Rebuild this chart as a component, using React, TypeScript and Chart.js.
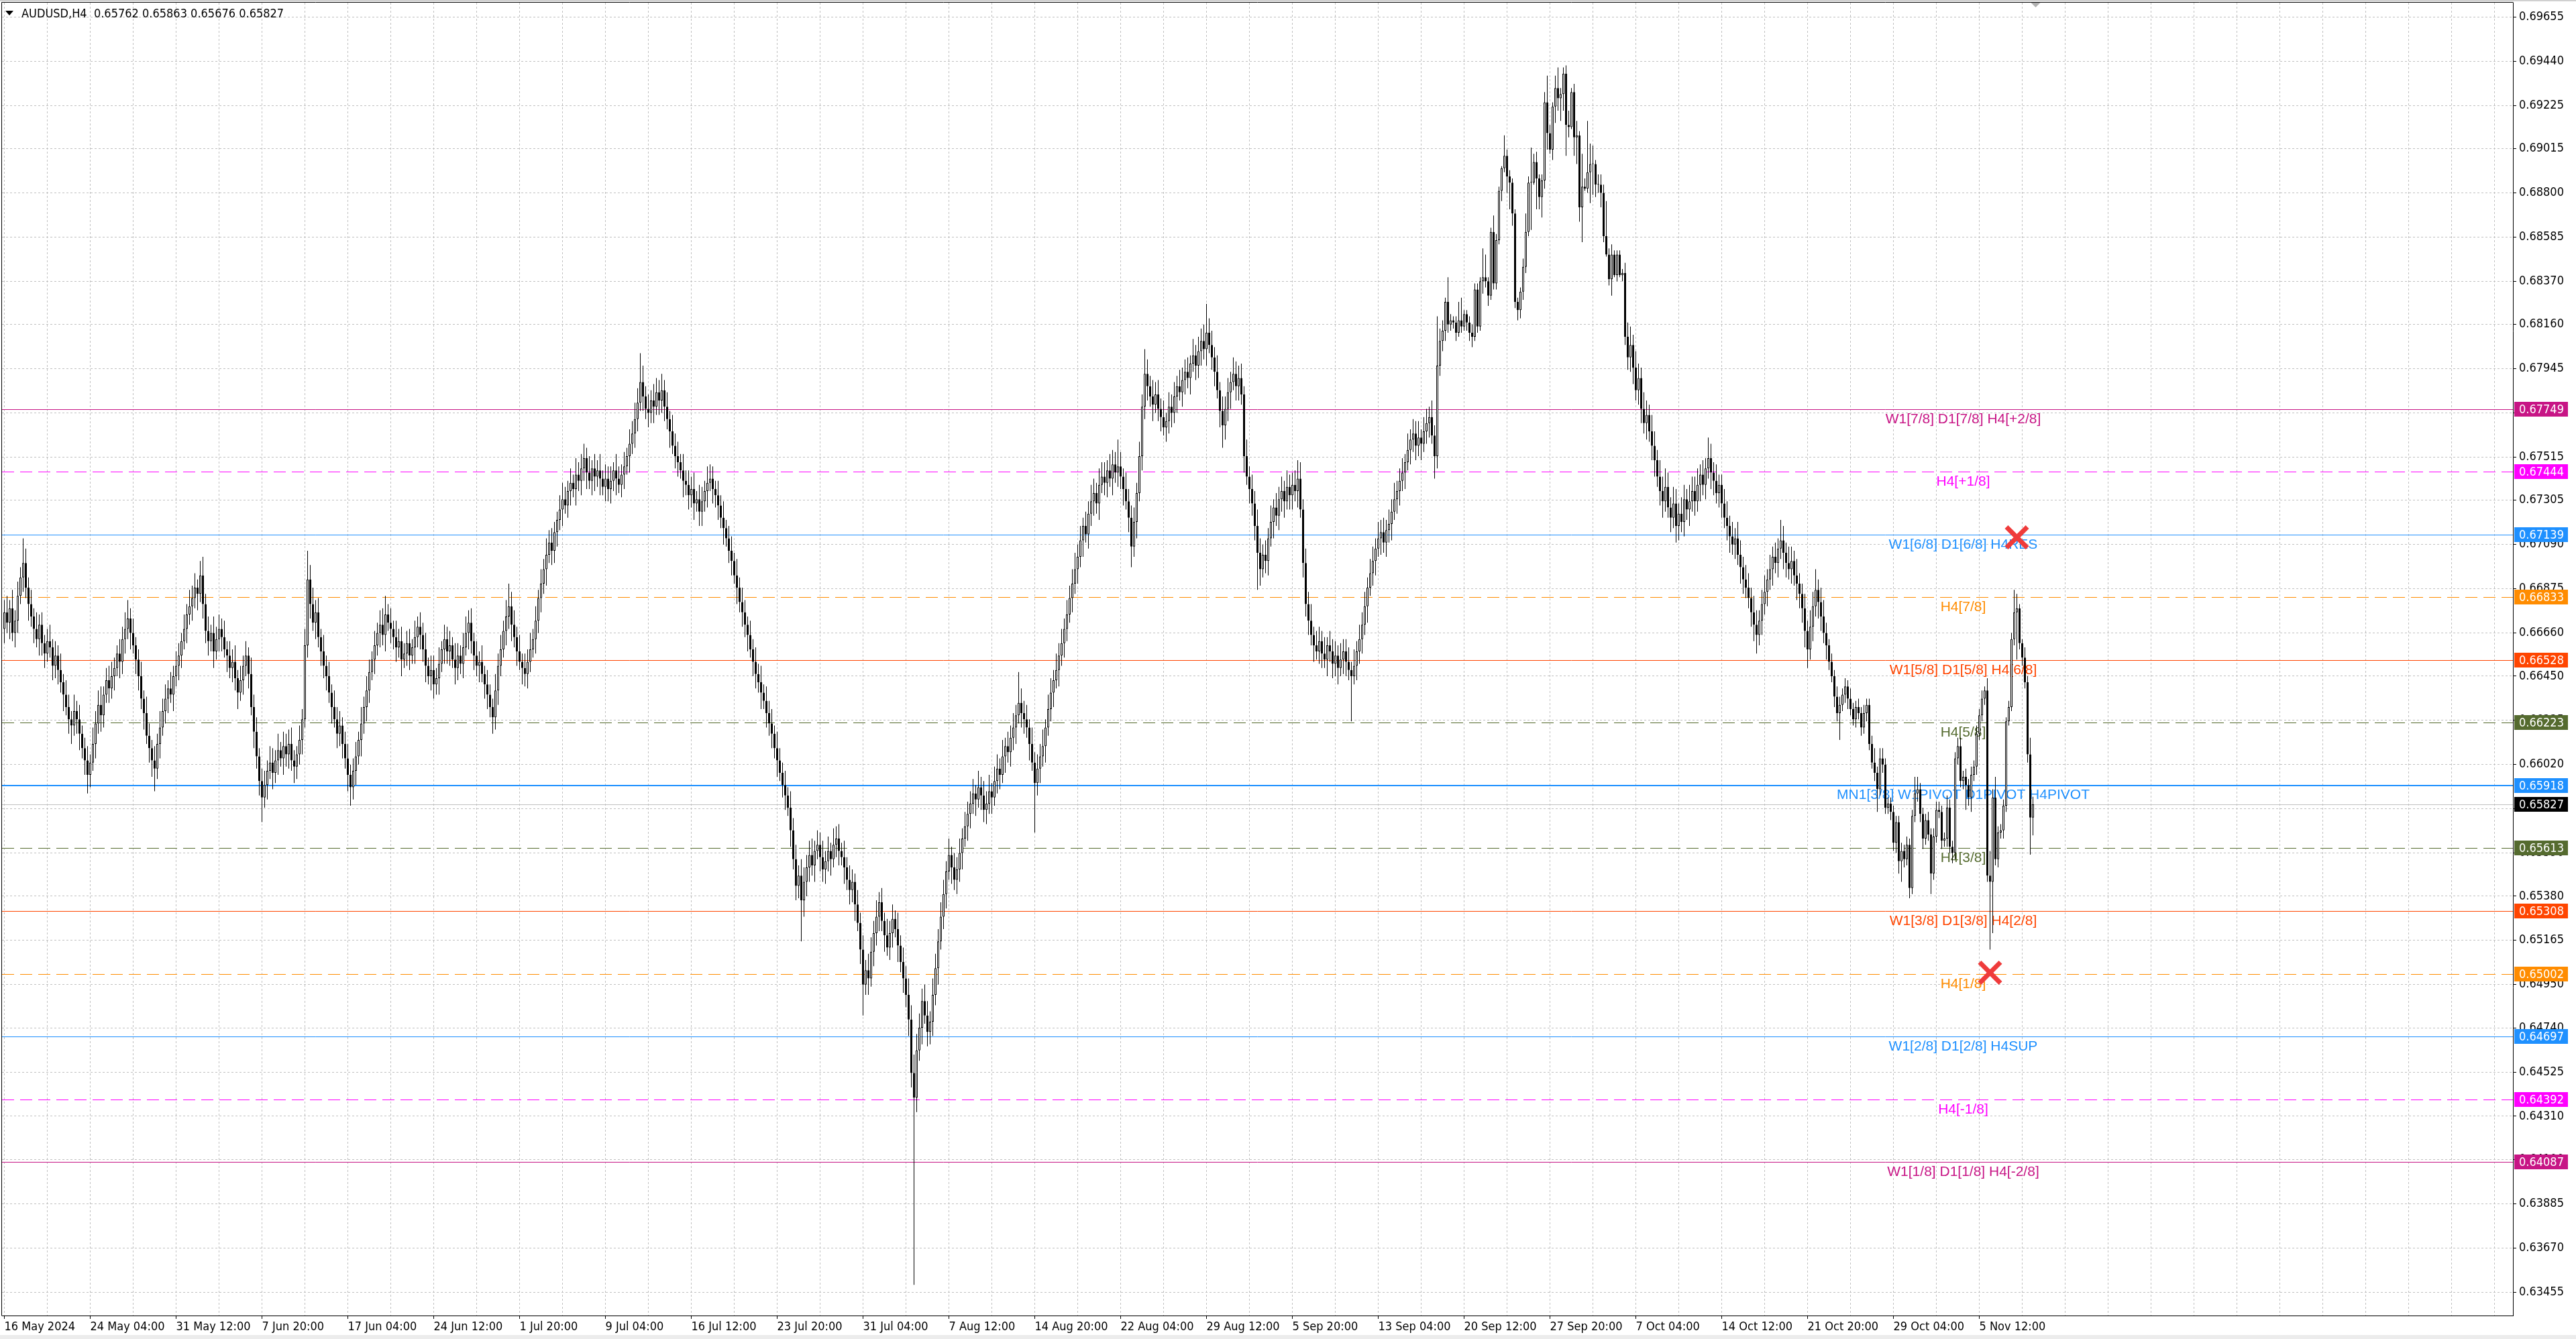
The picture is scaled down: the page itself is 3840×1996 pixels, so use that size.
import React, { useEffect, useRef } from 'react';
import { Chart, registerables } from 'chart.js';

Chart.register(...registerables);

// ---------------- DATA ----------------
const symbolTitle = 'AUDUSD,H4  0.65762 0.65863 0.65676 0.65827';

const dateLabels = [
  '16 May 2024', '24 May 04:00', '31 May 12:00', '7 Jun 20:00', '17 Jun 04:00', '24 Jun 12:00',
  '1 Jul 20:00', '9 Jul 04:00', '16 Jul 12:00', '23 Jul 20:00', '31 Jul 04:00', '7 Aug 12:00',
  '14 Aug 20:00', '22 Aug 04:00', '29 Aug 12:00', '5 Sep 20:00', '13 Sep 04:00', '20 Sep 12:00',
  '27 Sep 20:00', '7 Oct 04:00', '14 Oct 12:00', '21 Oct 20:00', '29 Oct 04:00', '5 Nov 12:00',
];

const yTickValues = [
  0.69655, 0.6944, 0.69225, 0.69015, 0.688, 0.68585, 0.6837, 0.6816, 0.67945, 0.6773,
  0.67515, 0.67305, 0.6709, 0.66875, 0.6666, 0.6645, 0.66235, 0.6602, 0.65805, 0.6559,
  0.6538, 0.65165, 0.6495, 0.6474, 0.64525, 0.6431, 0.641, 0.63885, 0.6367, 0.63455,
];

// prices in pips (x 0.0001); open of each bar = previous close
const firstOpen = 6668;
const closes = [
  6676,6671,6678,6666,6672,6684,6693,6700,6688,6680,
  6674,6668,6663,6670,6661,6656,6662,6659,6650,6655,
  6648,6642,6636,6630,6624,6621,6628,6624,6617,6610,
  6604,6597,6603,6612,6622,6631,6626,6636,6643,6639,
  6645,6649,6656,6652,6663,6668,6673,6666,6660,6653,
  6645,6634,6627,6616,6610,6604,6600,6612,6620,6628,
  6634,6639,6636,6645,6650,6655,6662,6668,6675,6679,
  6683,6688,6685,6694,6680,6667,6662,6666,6657,6663,
  6668,6664,6658,6655,6649,6652,6644,6637,6643,6650,
  6655,6646,6630,6618,6606,6594,6586,6592,6599,6603,
  6598,6604,6609,6605,6611,6607,6612,6604,6601,6607,
  6614,6624,6660,6692,6680,6671,6676,6664,6657,6650,
  6645,6637,6630,6624,6617,6621,6612,6605,6597,6591,
  6599,6606,6614,6622,6630,6638,6647,6653,6660,6666,
  6670,6665,6675,6671,6668,6664,6659,6662,6653,6656,
  6661,6655,6659,6664,6669,6665,6658,6650,6645,6648,
  6641,6644,6651,6658,6663,6657,6660,6653,6649,6655,
  6651,6659,6666,6671,6662,6655,6650,6652,6646,6641,
  6636,6630,6625,6638,6650,6658,6667,6674,6679,6670,
  6664,6657,6652,6649,6646,6652,6658,6663,6672,6683,
  6690,6697,6704,6710,6706,6715,6721,6726,6731,6728,
  6735,6739,6736,6743,6740,6746,6751,6744,6740,6746,
  6742,6745,6741,6737,6741,6736,6740,6745,6741,6738,
  6743,6747,6752,6758,6763,6770,6778,6788,6781,6775,
  6773,6779,6776,6783,6779,6784,6776,6770,6764,6757,
  6752,6749,6745,6740,6738,6733,6736,6729,6731,6725,
  6730,6735,6739,6741,6736,6733,6728,6722,6717,6712,
  6706,6701,6694,6688,6681,6676,6670,6665,6658,6652,
  6646,6642,6637,6633,6627,6622,6617,6610,6604,6598,
  6592,6587,6581,6570,6556,6543,6548,6536,6545,6552,
  6558,6553,6560,6563,6557,6551,6555,6560,6556,6563,
  6566,6560,6557,6552,6546,6541,6545,6534,6525,6512,
  6495,6502,6498,6511,6520,6528,6535,6526,6519,6513,
  6520,6527,6522,6514,6506,6498,6490,6478,6452,6440,
  6463,6474,6487,6480,6472,6477,6490,6503,6516,6528,
  6539,6550,6558,6552,6546,6551,6559,6566,6572,6578,
  6583,6588,6585,6591,6587,6580,6583,6589,6586,6594,
  6600,6597,6606,6611,6608,6615,6620,6626,6632,6627,
  6624,6620,6612,6603,6593,6600,6606,6611,6620,6629,
  6637,6643,6648,6655,6661,6668,6675,6683,6690,6697,
  6703,6711,6718,6714,6724,6730,6734,6729,6738,6742,
  6739,6745,6741,6748,6744,6747,6742,6736,6730,6722,
  6708,6720,6734,6752,6776,6792,6786,6781,6777,6782,
  6775,6771,6766,6769,6776,6773,6781,6786,6783,6789,
  6793,6790,6797,6801,6796,6803,6808,6804,6812,6806,
  6800,6793,6784,6774,6767,6775,6783,6788,6792,6786,
  6790,6782,6752,6742,6736,6729,6718,6705,6697,6704,
  6701,6712,6720,6727,6723,6731,6735,6730,6737,6733,
  6738,6735,6741,6726,6700,6680,6672,6665,6660,6657,
  6662,6656,6653,6660,6657,6651,6655,6649,6653,6657,
  6652,6648,6645,6650,6657,6663,6670,6679,6688,6695,
  6701,6707,6712,6715,6710,6716,6719,6725,6731,6735,
  6740,6744,6749,6755,6760,6763,6757,6761,6758,6764,
  6768,6771,6762,6752,6796,6808,6813,6827,6816,6818,
  6817,6812,6818,6815,6821,6817,6812,6810,6833,6815,
  6837,6839,6837,6830,6861,6836,6857,6881,6892,6898,
  6888,6885,6870,6827,6823,6832,6844,6861,6885,6885,
  6895,6887,6878,6886,6924,6909,6901,6922,6931,6926,
  6928,6938,6913,6912,6929,6907,6908,6873,6883,6882,
  6890,6894,6894,6884,6884,6880,6859,6850,6838,6850,
  6840,6850,6840,6841,6810,6800,6806,6795,6784,6790,
  6775,6768,6772,6764,6757,6750,6742,6735,6730,6737,
  6727,6722,6729,6718,6724,6720,6731,6726,6730,6735,
  6730,6738,6743,6738,6746,6751,6744,6740,6734,6738,
  6729,6722,6718,6713,6709,6712,6704,6698,6692,6688,
  6683,6676,6670,6665,6672,6680,6686,6692,6697,6703,
  6700,6707,6711,6705,6700,6697,6701,6694,6690,6685,
  6678,6667,6658,6669,6679,6687,6681,6674,6666,6660,
  6652,6645,6635,6627,6631,6636,6640,6634,6629,6624,
  6630,6627,6620,6627,6631,6612,6603,6598,6590,6605,
  6602,6581,6583,6579,6564,6574,6555,6560,6556,6563,
  6542,6577,6588,6590,6578,6566,6575,6568,6549,6567,
  6580,6579,6565,6566,6581,6562,6559,6605,6611,6594,
  6596,6592,6586,6597,6601,6617,6626,6634,6638,6548,
  6545,6586,6556,6569,6570,6582,6623,6630,6663,6676,
  6678,6661,6654,6642,6607,6576.2,6582.7,
];

// wick lengths in pips above the body top / below the body bottom
const upperWicks = [
  6,8,4,9,5,7,5,12,7,5, 7,4,8,5,6,4,6,8,4,7, 5,8,4,7,6,4,8,5,7,4, 5,7,4,8,6,7,9,4,6,7,
  7,5,4,7,6,8,9,5,7,4, 5,7,4,8,6,4,7,5,8,6, 7,4,8,5,7,6,4,7,5,8, 6,7,4,7,9,5,7,4,8,6,
  7,5,8,4,7,6,8,4,7,5, 7,4,8,6,7,4,6,7,5,8, 7,5,8,4,7,6,7,8,5,4, 7,5,8,14,7,8,6,7,4,8,
  5,7,4,8,6,7,4,6,7,5, 6,7,4,8,5,7,6,4,7,5, 7,8,9,5,7,4,8,6,7,5, 6,7,4,8,5,7,6,8,4,7,
  7,5,8,4,7,6,7,4,8,6, 5,7,8,6,7,4,7,5,8,4, 7,5,4,8,6,7,5,8,11,7, 7,5,8,4,7,6,8,5,7,4,
  7,5,8,6,7,5,4,7,8,6, 5,7,4,8,6,7,7,5,8,4, 7,5,8,4,7,6,7,4,8,6, 5,7,4,7,6,8,7,14,8,5,
  7,5,8,7,6,8,5,7,4,8, 6,7,4,8,5,7,6,8,4,7, 7,5,8,7,6,4,7,5,8,4, 6,7,4,8,5,7,6,4,7,5,
  7,5,8,4,7,6,7,4,8,6, 5,7,4,8,6,7,5,8,7,6, 7,8,5,7,6,8,5,7,4,8, 6,7,4,8,5,7,6,4,7,5,
  7,5,8,7,6,8,5,7,4,8, 6,7,4,8,5,7,6,8,7,9, 8,7,6,8,7,5,8,7,6,7, 7,5,8,4,7,6,7,5,7,6,
  6,7,4,8,5,7,6,8,4,7, 7,5,8,4,7,6,7,5,15,7, 6,7,4,8,5,7,6,8,4,7, 7,5,8,6,7,5,7,6,7,8,
  6,7,4,7,6,8,7,5,8,7, 7,5,8,7,6,13,7,4,8,6, 6,7,5,7,6,12,7,5,8,6, 7,5,8,4,7,6,7,5,8,6,
  6,7,4,8,5,7,6,8,14,7, 7,5,8,4,7,6,7,5,8,6, 6,7,4,8,5,7,6,8,7,5, 7,5,8,4,7,6,7,5,8,6,
  6,7,9,8,5,7,6,8,4,7, 7,5,8,4,7,6,7,5,8,6, 6,7,4,8,5,7,6,7,5,7, 7,5,8,6,7,5,7,6,8,5,
  6,7,4,8,5,7,6,8,4,7, 7,5,8,5,24,6,5,2,12,3, 2,3,9,11,2,2,3,4,3,3, 2,14,11,2,2,8,3,2,1,10,
  3,3,2,2,2,2,4,9,3,17, 4,5,2,3,5,13,4,2,6,10, 3,3,4,7,2,4,7,2,16,4, 25,10,9,2,5,5,4,17,3,5,
  2,2,2,2,5,7,9,5,8,7, 5,8,7,5,8,7,5,8,7,9, 7,5,8,7,5,8,7,5,8,7, 7,8,5,7,5,10,7,5,8,5,
  5,7,8,5,7,5,8,7,5,7, 7,5,8,7,5,7,8,5,7,5, 7,5,10,7,5,8,7,5,8,5, 5,7,5,8,7,10,5,7,8,5,
  3,4,3,5,4,3,4,3,5,3, 3,4,3,4,3,3,4,7,3,5, 5,3,3,3,3,3,3,4,3,4, 3,3,8,6,3,3,3,4,3,4,
  4,4,3,3,6,4,3,3,4,4, 3,4,3,4,3,4,3,4,2,6, 12,4,10,3,3,3,2,3,3,11, 7,2,2,5,3,8,3.6,
];

const lowerWicks = [
  7,5,8,4,7,6,4,7,5,8, 5,7,4,8,6,7,4,5,7,6, 7,5,8,4,7,9,5,7,8,5, 7,9,6,4,7,5,8,6,4,7,
  5,7,4,8,6,7,5,8,4,7, 7,5,8,4,7,8,11,5,7,4, 6,7,4,8,5,7,6,4,7,5, 7,5,8,4,7,6,7,5,8,4,
  6,7,4,8,5,7,6,8,4,7, 5,7,4,8,6,7,12,5,7,4, 8,5,7,4,8,6,7,5,8,6, 5,7,4,6,7,4,8,5,7,6,
  7,5,8,4,7,6,7,5,8,9, 6,7,4,8,5,7,6,4,7,5, 7,5,8,4,7,6,7,5,8,4, 6,7,4,8,5,7,6,8,4,7,
  7,5,8,4,7,6,7,4,8,6, 5,7,4,8,6,7,5,8,4,7, 7,5,8,6,7,5,4,7,6,8, 5,7,4,8,6,7,5,4,7,6,
  7,5,8,4,7,6,7,5,8,4, 6,7,4,8,5,7,6,8,4,7, 7,5,8,4,7,6,7,5,8,4, 6,7,4,8,5,7,6,4,7,5,
  7,5,8,4,7,6,7,5,8,4, 6,7,4,8,5,7,6,8,4,7, 7,5,8,4,7,6,7,5,8,4, 6,7,4,8,5,7,6,8,4,7,
  7,5,8,4,7,6,7,5,8,4, 6,7,4,8,5,7,6,20,8,7, 7,5,8,4,7,6,7,5,8,4, 6,7,4,8,5,7,6,8,4,7,
  15,5,8,4,7,6,7,5,8,4, 6,7,4,8,5,7,6,8,7,91, 7,5,8,4,7,6,7,5,8,4, 6,7,4,8,5,7,6,8,4,7,
  7,5,8,4,7,6,7,5,8,4, 6,7,4,8,5,7,6,8,4,7, 7,5,8,4,24,6,7,5,8,4, 6,7,4,8,5,7,6,4,7,5,
  7,5,8,4,7,6,7,5,8,4, 6,7,4,8,5,7,6,8,4,7, 10,5,8,4,7,6,7,5,8,4, 6,7,4,7,6,7,5,8,4,7,
  7,5,8,4,7,6,7,5,8,4, 6,7,4,8,11,7,6,8,4,7, 7,5,8,4,7,6,7,18,8,4, 6,7,4,8,5,7,6,8,4,7,
  7,5,8,4,7,6,7,5,8,4, 6,7,4,8,5,7,6,8,4,7, 7,5,22,4,7,6,7,5,8,4, 6,7,4,8,5,7,6,8,4,7,
  7,5,8,4,7,6,7,5,8,4, 6,7,4,11,6,5,5,5,4,3, 3,4,2,3,2,4,4,5,2,3, 2,6,3,5,2,3,3,2,5,2,
  8,13,6,3,5,4,4,3,2,23, 1,15,6,10,4,8,2,5,8,6, 11,8,15,5,1,9,13,7,17,1, 2,15,15,6,4,7,3,1,3,8,
  1,3,1,3,4,6,7,8,5,7, 7,5,8,5,7,8,5,7,8,5, 5,7,5,8,7,5,7,5,8,5, 7,5,8,5,7,5,8,7,5,7,
  7,5,7,8,5,7,5,8,7,5, 5,7,8,9,5,7,5,7,5,8, 5,7,5,8,7,5,7,5,8,7, 7,8,9,5,7,5,8,7,5,7,
  4,3,5,4,13,3,4,5,3,3, 4,3,4,3,4,3,3,4,11,3, 4,3,3,4,4,5,6,10,4,3, 5,3,3,4,4,5,3,3,10,3,
  3,3,4,3,4,3,5,3,3,3, 4,12,4,7,3,4,3,3,3,3, 33,25,3,4,3,4,3,2,2,3, 23,3,4,3,4,18,8.6,
];

const currentPrice = 0.65827;

const levelPrices = [0.67749, 0.67444, 0.67139, 0.66833, 0.66528, 0.66223, 0.65918, 0.65613, 0.65308, 0.65002, 0.64697, 0.64392, 0.64087];
const levelLabels = [
  'W1[7/8] D1[7/8] H4[+2/8]', 'H4[+1/8]', 'W1[6/8] D1[6/8] H4RES', 'H4[7/8]',
  'W1[5/8] D1[5/8] H4[6/8]', 'H4[5/8]', 'MN1[3/8] W1PIVOT D1PIVOT H4PIVOT', 'H4[3/8]',
  'W1[3/8] D1[3/8] H4[2/8]', 'H4[1/8]', 'W1[2/8] D1[2/8] H4SUP', 'H4[-1/8]', 'W1[1/8] D1[1/8] H4[-2/8]',
];
const labelBar = 730;

const markerBars = [750, 740];
const markerPrices = [0.67125, 0.65008];

// ---------------- STYLES ----------------
const levelColors = ['#C71585', '#FF00FF', '#1E90FF', '#FF8C00', '#FF4500', '#556B2F', '#1E90FF', '#556B2F', '#FF4500', '#FF8C00', '#1E90FF', '#FF00FF', '#C71585'];
const levelDashed = [false, true, false, true, false, true, false, true, false, true, false, true, false];
const levelWidths = [1, 1, 1, 1, 1, 1, 2, 1, 1, 1, 1, 1, 1];

const UI_FAMILY = '"DejaVu Sans Condensed", "Liberation Sans", Arial, sans-serif';
const UI_SIZE = 18;
const LABEL_FONT = '21px "Liberation Sans", Arial, sans-serif';

// ---------------- BUILD ----------------
const PIP = 10000;
const opens = closes.map((c, i) => (i === 0 ? firstOpen : closes[i - 1]));
const wickData = closes.map((c, i) => ({
  x: i,
  y: [(Math.min(opens[i], c) - lowerWicks[i]) / PIP, (Math.max(opens[i], c) + upperWicks[i]) / PIP],
}));
const bodyData = closes.map((c, i) => ({ x: i, y: [Math.min(opens[i], c) / PIP, Math.max(opens[i], c) / PIP] }));
const bodyColors = closes.map((c, i) => (c >= opens[i] ? '#ffffff' : '#000000'));
const markerData = markerBars.map((b, i) => ({ x: b, y: markerPrices[i] }));

const overlayPlugin = {
  id: 'mt4overlay',
  beforeDatasetsDraw(chart: any) {
    const { ctx, chartArea: a, scales } = chart;
    const y = scales.y;
    const x = scales.x;
    ctx.save();
    // bid line
    const yc = Math.round(y.getPixelForValue(currentPrice)) + 0.5;
    ctx.strokeStyle = '#c0c0c0';
    ctx.lineWidth = 1;
    ctx.setLineDash([]);
    ctx.beginPath();
    ctx.moveTo(a.left, yc);
    ctx.lineTo(a.right, yc);
    ctx.stroke();
    // levels
    const lx = x.getPixelForValue(labelBar);
    levelPrices.forEach((p, i) => {
      const w = levelWidths[i];
      const yy = Math.round(y.getPixelForValue(p)) + (w % 2 ? 0.5 : 0);
      ctx.strokeStyle = levelColors[i];
      ctx.lineWidth = w;
      ctx.setLineDash(levelDashed[i] ? [18, 9] : []);
      ctx.beginPath();
      ctx.moveTo(a.left, yy);
      ctx.lineTo(a.right, yy);
      ctx.stroke();
      ctx.setLineDash([]);
      ctx.fillStyle = levelColors[i];
      ctx.font = LABEL_FONT;
      ctx.textAlign = 'center';
      ctx.textBaseline = 'alphabetic';
      ctx.fillText(levelLabels[i], lx, yy + 20);
    });
    ctx.restore();
  },
  afterDraw(chart: any) {
    const { ctx, chartArea: a, scales } = chart;
    const y = scales.y;
    const x = scales.x;
    ctx.save();
    ctx.setLineDash([]);
    // window edges
    ctx.fillStyle = '#d0d0d0';
    ctx.fillRect(0, 0, chart.width, 2);
    ctx.fillStyle = '#ececec';
    ctx.fillRect(0, 1990, chart.width, 6);
    // frame top / left
    ctx.strokeStyle = '#000';
    ctx.lineWidth = 1;
    ctx.beginPath();
    ctx.moveTo(a.left - 0.5, a.top - 0.5);
    ctx.lineTo(a.right + 0.5, a.top - 0.5);
    ctx.moveTo(a.left - 0.5, a.top - 0.5);
    ctx.lineTo(a.left - 0.5, a.bottom + 0.5);
    ctx.stroke();
    // shift marker
    const sx = x.getPixelForValue(closes.length);
    ctx.fillStyle = '#b0b0b0';
    ctx.beginPath();
    ctx.moveTo(sx - 7, a.top);
    ctx.lineTo(sx + 7, a.top);
    ctx.lineTo(sx, a.top + 7);
    ctx.closePath();
    ctx.fill();
    // price badges
    const uiFont = `${UI_SIZE}px ${UI_FAMILY}`;
    const badge = (price: number, bg: string) => {
      const yy = Math.round(y.getPixelForValue(price));
      ctx.fillStyle = bg;
      ctx.fillRect(a.right + 2, yy - 11, 80, 22);
      ctx.fillStyle = '#ffffff';
      ctx.font = uiFont;
      ctx.textAlign = 'left';
      ctx.textBaseline = 'middle';
      ctx.fillText(price.toFixed(5), a.right + 9, yy + 1);
    };
    levelPrices.forEach((p, i) => badge(p, levelColors[i]));
    badge(currentPrice, '#000000');
    // title
    ctx.fillStyle = '#000';
    ctx.beginPath();
    ctx.moveTo(8, 16);
    ctx.lineTo(20, 16);
    ctx.lineTo(14, 23);
    ctx.closePath();
    ctx.fill();
    ctx.font = uiFont;
    ctx.textAlign = 'left';
    ctx.textBaseline = 'alphabetic';
    ctx.fillText(symbolTitle, 32, 26);
    ctx.restore();
  },
};

const uiFontObj = { family: UI_FAMILY, size: UI_SIZE };

export default function App() {
  const ref = useRef<HTMLCanvasElement>(null);
  useEffect(() => {
    document.body.style.margin = '0';
    document.body.style.overflow = 'hidden';
    const chart = new Chart(ref.current as HTMLCanvasElement, {
      type: 'bar',
      data: {
        datasets: [
          {
            type: 'scatter',
            data: markerData,
            pointStyle: 'crossRot',
            pointRadius: 22,
            pointBorderWidth: 7,
            borderColor: '#ef3b3b',
            backgroundColor: '#ef3b3b',
            clip: false,
            order: 0,
          } as any,
          {
            data: bodyData,
            backgroundColor: bodyColors,
            borderColor: '#000000',
            borderWidth: 1,
            borderSkipped: false,
            barThickness: 3,
            minBarLength: 1,
            grouped: false,
            inflateAmount: 0,
            order: 1,
          } as any,
          {
            data: wickData,
            backgroundColor: '#000000',
            borderWidth: 0,
            barThickness: 1,
            grouped: false,
            inflateAmount: 0,
            order: 2,
          } as any,
        ],
      },
      options: {
        responsive: false,
        maintainAspectRatio: false,
        devicePixelRatio: 1,
        animation: false,
        events: [],
        layout: { autoPadding: false, padding: { left: 3, top: 4, right: 0, bottom: 0 } },
        plugins: { legend: { display: false }, tooltip: { enabled: false } },
        scales: {
          x: {
            type: 'linear',
            position: 'bottom',
            min: -0.875,
            max: 934.875,
            offset: false,
            afterBuildTicks: (scale: any) => {
              const t = [];
              for (let v = 0; v <= scale.max; v += 16) t.push({ value: v });
              scale.ticks = t;
            },
            afterFit: (scale: any) => {
              scale.height = 35;
              scale.paddingLeft = 0;
              scale.paddingRight = 0;
            },
            grid: {
              color: '#c0c0c0',
              lineWidth: 1,
              offset: false,
              drawTicks: true,
              tickLength: 5,
              tickBorderDash: [],
              tickColor: (c: any) =>
                c.tick && c.tick.value % 32 === 0 && c.tick.value / 32 < dateLabels.length ? '#000000' : 'rgba(0,0,0,0)',
            },
            border: { display: true, color: '#000000', width: 1, dash: [3, 3] },
            ticks: {
              autoSkip: false,
              maxRotation: 0,
              minRotation: 0,
              align: 'start',
              padding: 2,
              color: '#000000',
              font: uiFontObj,
              callback: (v: any) => {
                const n = Number(v);
                return n % 32 === 0 && n / 32 < dateLabels.length ? dateLabels[n / 32] : '';
              },
            },
          } as any,
          y: {
            type: 'linear',
            position: 'right',
            min: 0.633409,
            max: 0.697248,
            afterBuildTicks: (scale: any) => {
              scale.ticks = yTickValues.map((v) => ({ value: v }));
            },
            afterFit: (scale: any) => {
              scale.width = 94;
              scale.paddingTop = 0;
              scale.paddingBottom = 0;
            },
            grid: {
              color: '#c0c0c0',
              lineWidth: 1,
              drawTicks: true,
              tickLength: 5,
              tickColor: '#000000',
              tickBorderDash: [],
            },
            border: { display: true, color: '#000000', width: 1, dash: [3, 3] },
            ticks: {
              autoSkip: false,
              padding: 4,
              color: '#000000',
              font: uiFontObj,
              callback: (v: any) => Number(v).toFixed(5),
            },
          } as any,
        },
      },
      plugins: [overlayPlugin],
    } as any);
    return () => chart.destroy();
  }, []);
  return (
    <div style={{ width: 3840, height: 1996, background: '#ffffff', overflow: 'hidden' }}>
      <canvas ref={ref} width={3840} height={1996} style={{ display: 'block', width: 3840, height: 1996 }} />
    </div>
  );
}
